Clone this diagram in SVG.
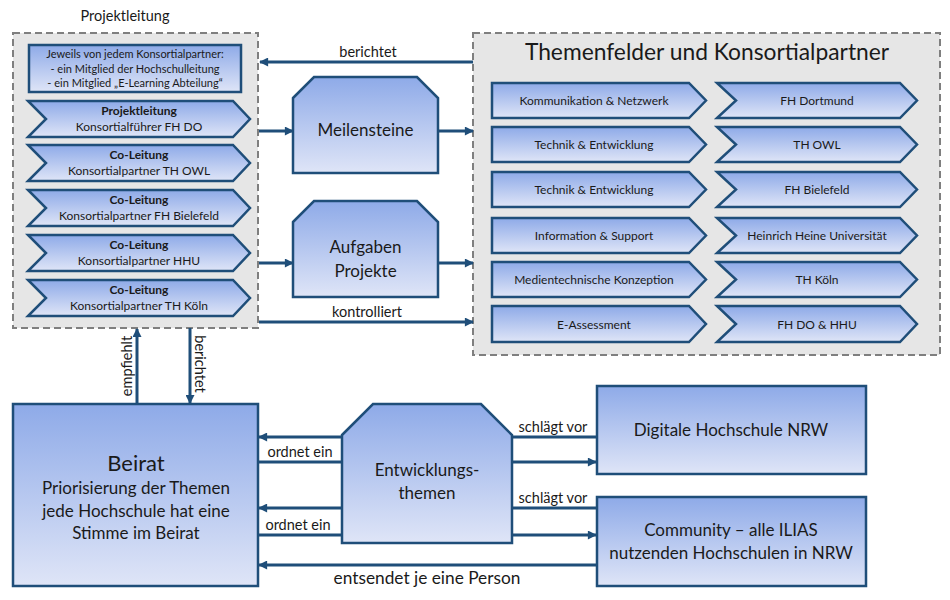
<svg xmlns="http://www.w3.org/2000/svg" width="950" height="600" viewBox="0 0 950 600">
<defs>
<linearGradient id="g" x1="0" y1="0" x2="0" y2="1">
<stop offset="0" stop-color="#8eaae8"/>
<stop offset="1" stop-color="#dfe5f7"/>
</linearGradient>
<marker id="ah" viewBox="0 0 10 10" refX="9" refY="5" markerWidth="11" markerHeight="9" markerUnits="userSpaceOnUse" orient="auto">
<path d="M0,0 L10,5 L0,10 Z" fill="#1f4e79"/>
</marker>
<style>
.grp{fill:#e6e6e6;stroke:#7f7f7f;stroke-width:2;stroke-dasharray:7,4}
.n{fill:url(#g);stroke:#1f4e79;stroke-width:2.5}
.c{fill:none;stroke:#1f4e79;stroke-width:3}
.a{marker-end:url(#ah)}
text{font-family:Lato,"Open Sans","Liberation Sans",sans-serif;fill:#1a1a1a;text-anchor:middle}
.t{font-size:11px}
.s{font-size:12px}
.sb{font-size:12px;font-weight:bold}
.m{font-size:14.5px}
.l{font-size:17px}
</style>
</defs>
<rect width="950" height="600" fill="#ffffff"/>

<g id="projektleitung-group">
<text x="125" y="21" style="font-size:14.5px">Projektleitung</text>
<rect class="grp" x="13" y="33" width="245" height="295"/>
</g>
<g id="themenfelder-group">
<rect class="grp" x="473" y="33" width="467" height="322"/>
<text x="707" y="60" style="font-size:22.8px">Themenfelder und Konsortialpartner</text>
</g>

<g id="pl-info">
<rect class="n" x="29" y="45" width="212" height="47"/>
<text class="t" x="135" y="58">Jeweils von jedem Konsortialpartner:</text>
<text class="t" x="135" y="73">- ein Mitglied der Hochschulleitung</text>
<text class="t" x="135" y="87">- ein Mitglied „E-Learning Abteilung“</text>
</g>
<g id="pl-1">
<path class="n" d="M28,101 H233 L250,119 L233,137 H28 L46,119 Z"/>
<text class="sb" x="139" y="115">Projektleitung</text>
<text class="s" x="139" y="131">Konsortialführer FH DO</text>
</g>
<g id="pl-2">
<path class="n" d="M28,145 H233 L250,163 L233,181 H28 L46,163 Z"/>
<text class="sb" x="139" y="159">Co-Leitung</text>
<text class="s" x="139" y="175">Konsortialpartner TH OWL</text>
</g>
<g id="pl-3">
<path class="n" d="M28,190 H233 L250,208 L233,226 H28 L46,208 Z"/>
<text class="sb" x="139" y="204">Co-Leitung</text>
<text class="s" x="139" y="220">Konsortialpartner FH Bielefeld</text>
</g>
<g id="pl-4">
<path class="n" d="M28,235 H233 L250,253 L233,271 H28 L46,253 Z"/>
<text class="sb" x="139" y="249">Co-Leitung</text>
<text class="s" x="139" y="265">Konsortialpartner HHU</text>
</g>
<g id="pl-5">
<path class="n" d="M28,280 H233 L250,298 L233,316 H28 L46,298 Z"/>
<text class="sb" x="139" y="294">Co-Leitung</text>
<text class="s" x="139" y="310">Konsortialpartner TH Köln</text>
</g>

<g id="meilensteine">
<path class="n" d="M293,98 L314,77 H417 L438,98 V173 H293 Z"/>
<text class="l" x="365.5" y="136">Meilensteine</text>
</g>
<g id="aufgaben">
<path class="n" d="M293,222 L314,201 H417 L438,222 V297 H293 Z"/>
<text class="l" x="365.5" y="253">Aufgaben</text>
<text class="l" x="365.5" y="277">Projekte</text>
</g>

<g id="tf-1"><path class="n" d="M492,83 H689 L706,100.5 L689,118 H492 Z"/><text class="s" x="594" y="105">Kommunikation &amp; Netzwerk</text></g>
<g id="tf-2"><path class="n" d="M492,127 H689 L706,144.5 L689,162 H492 Z"/><text class="s" x="594" y="149">Technik &amp; Entwicklung</text></g>
<g id="tf-3"><path class="n" d="M492,172 H689 L706,189.5 L689,207 H492 Z"/><text class="s" x="594" y="194">Technik &amp; Entwicklung</text></g>
<g id="tf-4"><path class="n" d="M492,218 H689 L706,235.5 L689,253 H492 Z"/><text class="s" x="594" y="240">Information &amp; Support</text></g>
<g id="tf-5"><path class="n" d="M492,262 H689 L706,279.5 L689,297 H492 Z"/><text class="s" x="594" y="284">Medientechnische Konzeption</text></g>
<g id="tf-6"><path class="n" d="M492,306 H689 L706,324 L689,342 H492 Z"/><text class="s" x="594" y="328.5">E-Assessment</text></g>

<g id="kp-1"><path class="n" d="M717,83 H900 L917,100.5 L900,118 H717 L736,100.5 Z"/><text class="s" x="817" y="105">FH Dortmund</text></g>
<g id="kp-2"><path class="n" d="M717,127 H900 L917,144.5 L900,162 H717 L736,144.5 Z"/><text class="s" x="817" y="149">TH OWL</text></g>
<g id="kp-3"><path class="n" d="M717,172 H900 L917,189.5 L900,207 H717 L736,189.5 Z"/><text class="s" x="817" y="194">FH Bielefeld</text></g>
<g id="kp-4"><path class="n" d="M717,218 H900 L917,235.5 L900,253 H717 L736,235.5 Z"/><text class="s" x="817" y="240">Heinrich Heine Universität</text></g>
<g id="kp-5"><path class="n" d="M717,262 H900 L917,279.5 L900,297 H717 L736,279.5 Z"/><text class="s" x="817" y="284">TH Köln</text></g>
<g id="kp-6"><path class="n" d="M717,306 H900 L917,324 L900,342 H717 L736,324 Z"/><text class="s" x="817" y="328.5">FH DO &amp; HHU</text></g>

<g id="beirat">
<rect class="n" x="13" y="404" width="245" height="182"/>
<text x="136" y="471" style="font-size:22px">Beirat</text>
<text class="l" x="136" y="494">Priorisierung der Themen</text>
<text class="l" x="136" y="517">jede Hochschule hat eine</text>
<text class="l" x="136" y="539">Stimme im Beirat</text>
</g>
<g id="entwicklungsthemen">
<path class="n" d="M342,435 L373,404 H481 L512,435 V543 H342 Z"/>
<text class="l" x="427" y="476">Entwicklungs-</text>
<text class="l" x="427" y="499">themen</text>
</g>
<g id="dh-nrw">
<rect class="n" x="597" y="386" width="269" height="88"/>
<text class="l" x="731" y="436">Digitale Hochschule NRW</text>
</g>
<g id="community">
<rect class="n" x="597" y="497" width="269" height="89"/>
<text class="l" x="731" y="536">Community – alle ILIAS</text>
<text class="l" x="731" y="559">nutzenden Hochschulen in NRW</text>
</g>

<g id="connectors">
<line class="c a" x1="473" y1="62" x2="260" y2="62"/>
<line class="c a" x1="259" y1="131" x2="293" y2="131"/>
<line class="c a" x1="438" y1="131" x2="473" y2="131"/>
<line class="c a" x1="259" y1="263" x2="293" y2="263"/>
<line class="c a" x1="438" y1="263" x2="473" y2="263"/>
<line class="c a" x1="259" y1="322" x2="473" y2="322"/>
<line class="c a" x1="137" y1="404" x2="137" y2="329"/>
<line class="c a" x1="190" y1="328" x2="190" y2="403"/>
<line class="c a" x1="342" y1="437" x2="259" y2="437"/>
<line class="c" x1="258" y1="462" x2="342" y2="462"/>
<line class="c a" x1="342" y1="508" x2="259" y2="508"/>
<line class="c" x1="258" y1="535" x2="342" y2="535"/>
<line class="c" x1="512" y1="437" x2="597" y2="437"/>
<line class="c a" x1="512" y1="462" x2="596" y2="462"/>
<line class="c" x1="512" y1="508" x2="597" y2="508"/>
<line class="c a" x1="512" y1="535" x2="596" y2="535"/>
<line class="c a" x1="597" y1="565" x2="259" y2="565"/>
<text class="m" x="368" y="57">berichtet</text>
<text class="m" x="367" y="317">kontrolliert</text>
<text class="m" transform="translate(132,366) rotate(-90)">empfiehlt</text>
<text class="m" transform="translate(195,364) rotate(90)">berichtet</text>
<text class="m" x="300" y="457">ordnet ein</text>
<text class="m" x="298" y="530">ordnet ein</text>
<text class="m" x="553" y="432">schlägt vor</text>
<text class="m" x="553" y="503">schlägt vor</text>
<text x="427" y="584" style="font-size:17.3px">entsendet je eine Person</text>
</g>
</svg>
